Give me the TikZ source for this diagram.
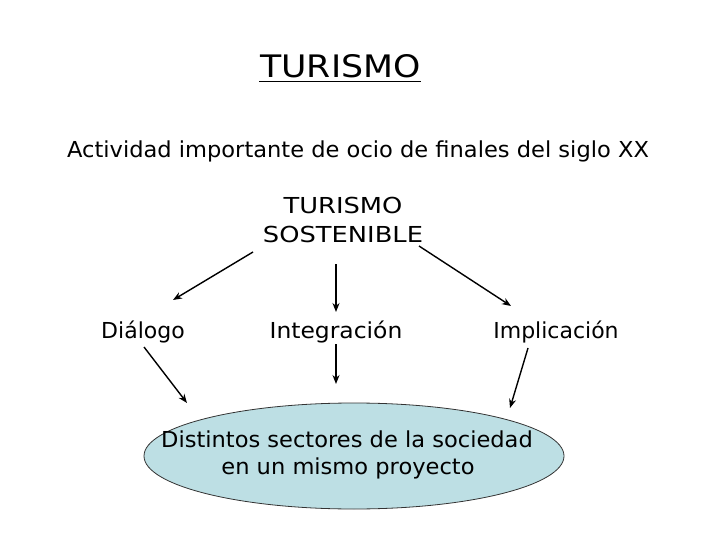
\documentclass[tikz,border=0pt]{standalone}
\usepackage{fontspec}
\setmainfont{DejaVu Sans}
\newfontfamily\fsA[FakeStretch=1.025]{DejaVu Sans}
\newfontfamily\fsB[FakeStretch=1.065]{DejaVu Sans}
\newfontfamily\fsC[FakeStretch=1.12]{DejaVu Sans}
\newfontfamily\fsD[FakeStretch=1.17]{DejaVu Sans}
\usetikzlibrary{arrows.meta,shapes.geometric}
\definecolor{ellblue}{RGB}{189,223,228}
\begin{document}
\begin{tikzpicture}[x=1pt,y=-1pt,
  txt/.style={inner sep=0pt,anchor=base,font=\fontsize{22}{27}\selectfont},
  arr/.style={line width=1.4pt,-{Stealth[length=9pt,width=7pt]}}]
\useasboundingbox (0,0) rectangle (720,540);
\fill[white] (0,0) rectangle (720,540);
% title
\node[txt,font=\fontsize{31}{36}\selectfont\fsC] (title) at (340.5,78) {TURISMO};
\draw[line width=1.3pt] (259,81.5) -- (421,81.5);
\node[txt,font=\fontsize{22}{27}\selectfont\fsA] (sub) at (358,158) {Actividad importante de ocio de finales del siglo XX};
\node[txt,font=\fontsize{22}{27}\selectfont\fsD] (ts1) at (343,214) {TURISMO};
\node[txt,font=\fontsize{22}{27}\selectfont\fsD] (ts2) at (343,242) {SOSTENIBLE};
\node[txt] (dia) at (143,338) {Diálogo};
\node[txt,font=\fontsize{22}{27}\selectfont\fsB] (int) at (336,338) {Integración};
\node[txt] (imp) at (556,338) {Implicación};
\node[ellipse,draw=black!80,line width=0.8pt,fill=ellblue,minimum width=420,minimum height=106,inner sep=0pt] (goal) at (354,456) {};
\node[txt,font=\fontsize{22}{27}\selectfont\fsA] (g1) at (347,447) {Distintos sectores de la sociedad};
\node[txt,font=\fontsize{22}{27}\selectfont\fsA] (g2) at (348,474) {en un mismo proyecto};
% arrows
\coordinate (a1s) at (253,252); \coordinate (a1e) at (173,300);
\coordinate (a2s) at (336,264); \coordinate (a2e) at (336,312);
\coordinate (a3s) at (419,246); \coordinate (a3e) at (511,306);
\coordinate (b1s) at (144,347); \coordinate (b1e) at (187,403);
\coordinate (b2s) at (336,344); \coordinate (b2e) at (336,384);
\coordinate (b3s) at (528,348); \coordinate (b3e) at (510,408);
\draw[arr] (a1s) -- (a1e);
\draw[arr] (a2s) -- (a2e);
\draw[arr] (a3s) -- (a3e);
\draw[arr] (b1s) -- (b1e);
\draw[arr] (b2s) -- (b2e);
\draw[arr] (b3s) -- (b3e);
\end{tikzpicture}
\end{document}
